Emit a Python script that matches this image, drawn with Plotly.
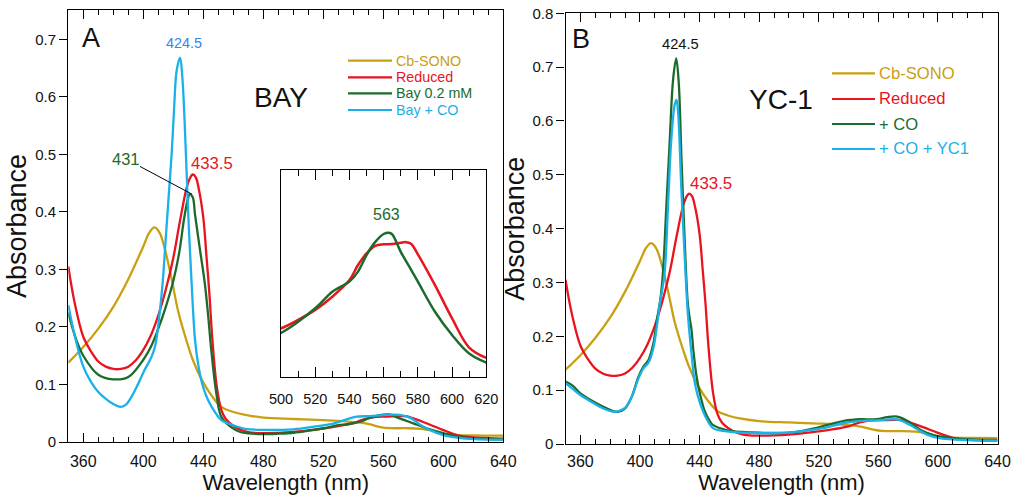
import plotly.graph_objects as go

W, H = 1013, 495

# ---------------- data ----------------
# Cb-SONO (same spectrum in both panels)
sono_x = [350, 360, 370, 380, 390, 400, 404, 407.5, 411, 414.5, 419, 423, 428, 433, 439, 446, 452, 459, 468,
          480, 500, 520, 535, 545, 552, 558, 565, 575, 585, 592, 600, 610, 625, 640]
sono_y = [0.138, 0.165, 0.197, 0.235, 0.283, 0.340, 0.364, 0.373, 0.363, 0.334, 0.282, 0.230, 0.183, 0.143,
          0.108, 0.079, 0.061, 0.053, 0.047, 0.0425, 0.040, 0.038, 0.036, 0.0335, 0.030, 0.026, 0.024, 0.024,
          0.023, 0.020, 0.014, 0.012, 0.0112, 0.011]

# Reduced (same spectrum in both panels)
red_x = [350, 354, 360, 365, 370, 375, 380, 385, 390, 395, 400, 405, 410, 415, 420, 424.5, 429, 431, 433,
         435, 437, 440, 442.2, 444, 446, 449, 452, 455, 459, 465, 470, 480, 490, 500, 510, 520, 530, 540, 545,
         550, 555, 560, 565, 570, 573, 576, 580, 590, 600, 610, 620, 630, 640]
red_y = [0.305, 0.245, 0.183, 0.158, 0.140, 0.131, 0.127, 0.127, 0.131, 0.142, 0.160, 0.185, 0.220, 0.265,
         0.320, 0.385, 0.443, 0.458, 0.465, 0.460, 0.440, 0.390, 0.320, 0.260, 0.180, 0.096, 0.056, 0.040,
         0.030, 0.021, 0.017, 0.0155, 0.016, 0.0175, 0.0202, 0.0234, 0.0276, 0.0329, 0.0377, 0.0414, 0.0438,
         0.0443, 0.0444, 0.0448, 0.0450, 0.0445, 0.0411, 0.0313, 0.0207, 0.0114, 0.0081, 0.0068, 0.006]

# Panel A: Bay 0.2 mM
bay_x = [350, 355, 360, 370, 380, 390, 400, 405, 410, 415, 420, 424, 427, 429.5, 431, 433, 434.5, 437.8,
         441, 443.3, 445.3, 449, 452, 459, 465, 470, 480, 490, 500, 510, 520, 530, 535, 540, 545, 550, 555,
         560, 563, 565, 570, 575, 580, 590, 600, 610, 620, 630, 640]
bay_y = [0.225, 0.180, 0.150, 0.117, 0.109, 0.113, 0.143, 0.165, 0.197, 0.235, 0.280, 0.330, 0.385, 0.420,
         0.431, 0.425, 0.395, 0.334, 0.276, 0.218, 0.160, 0.079, 0.044, 0.025, 0.017, 0.015, 0.0137, 0.0145,
         0.0161, 0.0196, 0.0239, 0.0292, 0.0308, 0.0324, 0.0356, 0.0409, 0.0450, 0.0476, 0.0480, 0.0475,
         0.0419, 0.0372, 0.0324, 0.0228, 0.0154, 0.0095, 0.0066, 0.005, 0.0045]

# Panel A: Bay + CO
bayco_x = [350, 354, 360, 365, 370, 375, 380, 384.5, 388, 392, 396, 401, 405.5, 408, 410.5, 413, 415, 417,
           419, 420.7, 422.2, 424.5, 426, 427.5, 429, 430.4, 432.2, 434.4, 436, 439, 442, 445.6, 452, 459,
           468, 480, 500, 515, 525, 535, 542, 551, 562, 571, 578, 584.5, 591, 600, 613, 640]
bayco_y = [0.238, 0.188, 0.131, 0.105, 0.087, 0.075, 0.066, 0.061, 0.064, 0.078, 0.098, 0.126, 0.148, 0.168,
           0.215, 0.280, 0.355, 0.430, 0.505, 0.589, 0.645, 0.668, 0.635, 0.560, 0.460, 0.370, 0.276, 0.180,
           0.145, 0.104, 0.080, 0.061, 0.038, 0.030, 0.023, 0.021, 0.022, 0.027, 0.031, 0.039, 0.044, 0.045,
           0.047, 0.047, 0.042, 0.030, 0.021, 0.012, 0.0064, 0.004]

# Panel B: + CO
co_x = [350, 355, 360, 368.7, 375.4, 382, 385.6, 390, 394.5, 399, 402.4, 405.7, 409, 411.3, 413.6, 415.4,
        417.7, 420, 422.2, 424.3, 426, 427.8, 430, 432.3, 434.6, 435.8, 438, 440.2, 443.6, 447, 449.2, 458,
        469, 480, 500, 512, 525.5, 537, 548, 559, 566, 572.7, 579.5, 588.5, 597.5, 611, 640]
co_y = [0.116, 0.108, 0.094, 0.079, 0.069, 0.061, 0.060, 0.066, 0.088, 0.125, 0.144, 0.156, 0.187, 0.230,
        0.267, 0.317, 0.441, 0.565, 0.676, 0.716, 0.672, 0.534, 0.379, 0.255, 0.212, 0.175, 0.125, 0.094,
        0.060, 0.042, 0.035, 0.026, 0.0223, 0.021, 0.021, 0.026, 0.035, 0.043, 0.046, 0.046, 0.050, 0.051,
        0.043, 0.026, 0.016, 0.0105, 0.0074]

# Panel B: + CO + YC1
yc1_x = [350, 355, 360, 368.7, 375.4, 382, 385.6, 390, 394.5, 399, 402.4, 405.7, 409, 411.3, 413.3, 416.5,
         418.8, 421, 423.3, 424.5, 425.5, 427.8, 430, 432.3, 434.6, 436.9, 440.2, 444.7, 449.2, 458, 469, 480,
         500, 512, 525.5, 537, 548, 559, 570.6, 575, 584, 593, 602, 620, 640]
yc1_y = [0.113, 0.102, 0.091, 0.076, 0.066, 0.060, 0.061, 0.067, 0.088, 0.122, 0.141, 0.151, 0.178, 0.218,
         0.260, 0.317, 0.441, 0.565, 0.630, 0.639, 0.620, 0.472, 0.348, 0.236, 0.168, 0.112, 0.077, 0.047,
         0.029, 0.0236, 0.021, 0.020, 0.021, 0.025, 0.031, 0.039, 0.043, 0.044, 0.046, 0.044, 0.031, 0.017,
         0.0105, 0.0074, 0.006]

names_a = ["Cb-SONO", "Reduced", "Bay 0.2 mM", "Bay + CO"]
names_b = ["Cb-SONO", "Reduced", "+ CO", "+ CO + YC1"]
colors = ["#C9A010", "#E8141E", "#1C6B2C", "#1AB0E8"]

xticks_main = [360, 400, 440, 480, 520, 560, 600, 640]
yticks_a = [0, 0.1, 0.2, 0.3, 0.4, 0.5, 0.6, 0.7]
yticks_b = [0, 0.1, 0.2, 0.3, 0.4, 0.5, 0.6, 0.7, 0.8]
xticks_inset = [500, 520, 540, 560, 580, 600, 620]

# ---------------- geometry (pixels) ----------------
def px(x):
    return x / W

def py(y):
    return 1 - y / H

FONT = "Liberation Sans, Arial, sans-serif"

fig = go.Figure()

def add(x, y, color, xa, ya, width=2.3):
    fig.add_trace(go.Scatter(x=x, y=y, mode="lines", xaxis=xa, yaxis=ya, showlegend=False,
                             line=dict(color=color, width=width, shape="spline", smoothing=1.0),
                             hoverinfo="skip"))

# panel A
add(sono_x, sono_y, colors[0], "x", "y")
add(red_x, red_y, colors[1], "x", "y")
add(bay_x, bay_y, colors[2], "x", "y")
add(bayco_x, bayco_y, colors[3], "x", "y")
# inset
add(red_x, red_y, colors[1], "x2", "y2", 2.5)
add(bay_x, bay_y, colors[2], "x2", "y2", 2.5)
# panel B
add(sono_x, sono_y, colors[0], "x3", "y3")
add(red_x, red_y, colors[1], "x3", "y3")
add(co_x, co_y, colors[2], "x3", "y3")
add(yc1_x, yc1_y, colors[3], "x3", "y3")

axis_common = dict(showline=True, linecolor="black", linewidth=1.3, showgrid=False, zeroline=False,
                   automargin=False, tickcolor="black", tickwidth=1.2)

def xaxis(domain, anchor, ticks_vals, rng, title=True, major_len=9, minor_len=5, fsize=16, standoff=5,
          title_standoff=3):
    d = dict(axis_common)
    d.update(domain=domain, anchor=anchor, range=rng, tickmode="array", tickvals=ticks_vals,
             ticks="inside", ticklen=major_len, mirror="ticks",
             minor=dict(dtick=10, tick0=0, ticks="inside", ticklen=minor_len, tickcolor="black", tickwidth=1.1),
             tickfont=dict(family=FONT, color="#111", size=fsize), ticklabelstandoff=standoff)
    if title:
        d.update(title=dict(text="Wavelength (nm)", font=dict(family=FONT, size=22, color="#111"),
                            standoff=title_standoff))
    return d

def yaxis(domain, anchor, ticks_vals, rng, labels=True):
    d = dict(axis_common)
    d.update(domain=domain, anchor=anchor, range=rng, mirror=True,
             tickfont=dict(family=FONT, color="#111", size=15))
    if labels:
        d.update(tickmode="array", tickvals=ticks_vals, ticktext=[("0" if v == 0 else f"{v:.1f}") for v in ticks_vals],
                 ticks="outside", ticklen=8,
                 title=dict(text="Absorbance", font=dict(family=FONT, size=27, color="#111"), standoff=0))
    else:
        d.update(showticklabels=False, ticks="")
    return d

A_x0, A_x1, A_top, A_bot = 68.3, 503.3, 10.0, 442.0
B_x0, B_x1, B_top, B_bot = 565.5, 997.5, 13.3, 444.0
I_x0, I_x1, I_top, I_bot = 281.0, 486.3, 170.0, 377.0

fig.update_layout(
    width=W, height=H, margin=dict(l=0, r=0, t=0, b=0, autoexpand=False),
    paper_bgcolor="white", plot_bgcolor="rgba(0,0,0,0)",
    xaxis=xaxis([px(A_x0), px(A_x1)], "y", xticks_main, [350, 640]),
    yaxis=yaxis([py(A_bot), py(A_top)], "x", yticks_a, [0, 0.751]),
    xaxis2=xaxis([px(I_x0), px(I_x1)], "y2", xticks_inset, [500, 620], title=False, major_len=10,
                 minor_len=6, fsize=14.5, standoff=8),
    yaxis2=yaxis([py(I_bot), py(I_top)], "x2", [], [0.002, 0.068], labels=False),
    xaxis3=xaxis([px(B_x0), px(B_x1)], "y3", xticks_main, [350, 640], standoff=3, title_standoff=5),
    yaxis3=yaxis([py(B_bot), py(B_top)], "x3", yticks_b, [0, 0.8]),
)

# white background for the inset box
fig.add_shape(type="rect", xref="x2 domain", yref="y2 domain", x0=0, x1=1, y0=0, y1=1,
              fillcolor="white", line=dict(width=0), layer="below")

ann = []
def text(x, y, s, size, color="#111"):
    ann.append(dict(x=px(x), y=py(y), xref="paper", yref="paper", text=s, showarrow=False,
                    font=dict(family=FONT, size=size, color=color), xanchor="center", yanchor="middle"))

text(91, 38, "A", 27)
text(280.5, 98, "BAY", 28)
text(581, 39, "B", 27)
text(780.5, 100, "YC-1", 28)
text(184, 42.5, "424.5", 14.4, "#3D7FF0")
text(126.3, 159.5, "431", 16.5, colors[2])
text(211.5, 163, "433.5", 16.7, colors[1])
text(386, 214, "563", 16, colors[2])
text(680.7, 43.5, "424.5", 14.7, "#111")
text(711.2, 184, "433.5", 16.9, colors[1])

# leader line 431
fig.add_shape(type="line", xref="x", yref="y", x0=397.8, y0=0.479, x1=432.3, y1=0.431,
              line=dict(color="black", width=1))

# manual legends
def legend(names, x_line0, x_line1, x_text, rows, size):
    for name, c, yy in zip(names, colors, rows):
        fig.add_shape(type="line", xref="paper", yref="paper", x0=px(x_line0), x1=px(x_line1),
                      y0=py(yy), y1=py(yy), line=dict(color=c, width=2.2))
        ann.append(dict(x=px(x_text), y=py(yy), xref="paper", yref="paper", text=name, showarrow=False,
                        font=dict(family=FONT, size=size, color=c), xanchor="left", yanchor="middle"))

legend(names_a, 348, 392, 394, [60.7, 77.3, 93.3, 110], 14.3)
legend(names_b, 832, 875, 877, [73.3, 99, 124, 149], 16.6)

fig.update_layout(annotations=ann)
fig.write_html("out.html", config={"displayModeBar": False},
               post_script="document.body.style.margin='0';document.body.style.overflow='hidden';")
